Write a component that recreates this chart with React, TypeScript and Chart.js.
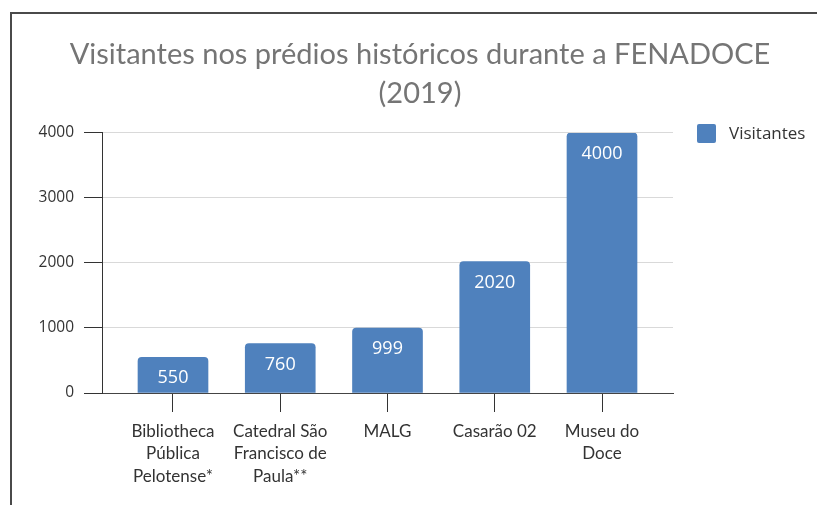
import React, { useEffect, useRef } from "react";
import { Chart, registerables } from "chart.js";

Chart.register(...registerables);

const titleLines = ["Visitantes nos prédios históricos durante a FENADOCE", "(2019)"];
const seriesName = "Visitantes";
const categoryLines: string[][] = [
  ["Bibliotheca", "Pública", "Pelotense*"],
  ["Catedral São", "Francisco de", "Paula**"],
  ["MALG"],
  ["Casarão 02"],
  ["Museu do", "Doce"],
];
const visitantes = [550, 760, 999, 2020, 4000];
const yTicks = [0, 1000, 2000, 3000, 4000];

const BAR_COLOR = "#4f81bd";

const valueLabelPlugin = {
  id: "valueLabels",
  afterDatasetsDraw(chart: any) {
    const ctx = chart.ctx;
    const meta = chart.getDatasetMeta(0);
    ctx.save();
    ctx.fillStyle = "#ffffff";
    ctx.font = "18px 'Open Sans'";
    ctx.textAlign = "center";
    ctx.textBaseline = "middle";
    meta.data.forEach((el: any, i: number) => {
      const v = chart.data.datasets[0].data[i];
      ctx.fillText(String(v.y), el.x, el.y + 21);
    });
    ctx.restore();
  },
};

const legendPlugin = {
  id: "customLegend",
  afterDraw(chart: any) {
    const ctx = chart.ctx;
    const ds = chart.data.datasets[0];
    const x = chart.chartArea.right + 24;
    const y = chart.chartArea.top - 9;
    ctx.save();
    ctx.fillStyle = ds.backgroundColor;
    ctx.beginPath();
    (ctx as any).roundRect(x, y, 19, 19, 2);
    ctx.fill();
    ctx.fillStyle = "#333333";
    ctx.font = "17px 'Open Sans'";
    ctx.textAlign = "left";
    ctx.textBaseline = "middle";
    ctx.fillText(ds.label, x + 32, y + 10);
    ctx.restore();
  },
};

export default function App() {
  const ref = useRef<HTMLCanvasElement | null>(null);

  useEffect(() => {
    if (!ref.current) return;
    const chart = new Chart(ref.current, {
      type: "bar",
      data: {
        datasets: [
          {
            label: seriesName,
            data: visitantes.map((v, i) => ({ x: i, y: v })),
            backgroundColor: BAR_COLOR,
            barThickness: 70,
            borderRadius: { topLeft: 4, topRight: 4, bottomLeft: 0, bottomRight: 0 },
            borderSkipped: "start",
          } as any,
        ],
      },
      options: {
        animation: false,
        responsive: false,
        devicePixelRatio: 1,
        layout: { padding: { left: 23, right: 0, top: 0, bottom: 0 } },
        plugins: {
          legend: { display: false },
          tooltip: { enabled: false },
          title: {
            display: true,
            text: titleLines,
            color: "#757575",
            font: { family: "Lato", size: 29, weight: "normal", lineHeight: 1.36 },
            padding: { top: 34.5, bottom: 19.5 },
          },
        },
        scales: {
          x: {
            type: "linear",
            offset: false,
            min: -0.662,
            max: 4.662,
            afterBuildTicks: (scale: any) => {
              scale.ticks = categoryLines.map((_, i) => ({ value: i }));
            },
            afterFit: (scale: any) => {
              scale.height = 112;
            },
            ticks: {
              callback: (v: any) => categoryLines[v as number],
              color: "#333333",
              font: { family: "Lato", size: 17, lineHeight: 1.32 },
              padding: 8,
              maxRotation: 0,
              autoSkip: false,
            },
            grid: {
              offset: false,
              drawOnChartArea: false,
              drawTicks: true,
              tickLength: 19,
              tickColor: "#333333",
            },
            border: { display: true, color: "#444444", width: 1 },
          },
          y: {
            min: 0,
            max: 4000,
            afterBuildTicks: (scale: any) => {
              scale.ticks = yTicks.map((v) => ({ value: v }));
            },
            afterFit: (scale: any) => {
              scale.width = 79;
            },
            ticks: {
              callback: (v: any) => String(v),
              color: "#333333",
              font: { family: "Open Sans", size: 15.5 },
              padding: 10,
            },
            grid: {
              color: (c: any) => (c.tick && c.tick.value === 0 ? "#444444" : "#d9d9d9"),
              lineWidth: 1,
              tickLength: 18,
              tickColor: "#333333",
            },
            border: { display: true, color: "#333333", width: 1 },
          },
          legendSpace: {
            type: "linear",
            position: "right",
            display: true,
            afterFit: (scale: any) => {
              scale.width = 144;
            },
            ticks: { display: false },
            grid: { display: false, drawOnChartArea: false, drawTicks: false },
            border: { display: false },
          },
        },
      } as any,
      plugins: [valueLabelPlugin, legendPlugin],
    });
    return () => chart.destroy();
  }, []);

  return (
    <div style={{ position: "fixed", left: 0, top: 0, width: 817, height: 505, background: "#ffffff" }}>
      <div
        style={{
          position: "absolute",
          left: 10,
          top: 12,
          width: 807,
          height: 493,
          borderLeft: "2px solid #4a4a4a",
          borderTop: "2px solid #4a4a4a",
          boxSizing: "border-box",
        }}
      />
      <canvas ref={ref} width={817} height={505} style={{ position: "absolute", left: 0, top: 0 }} />
    </div>
  );
}
